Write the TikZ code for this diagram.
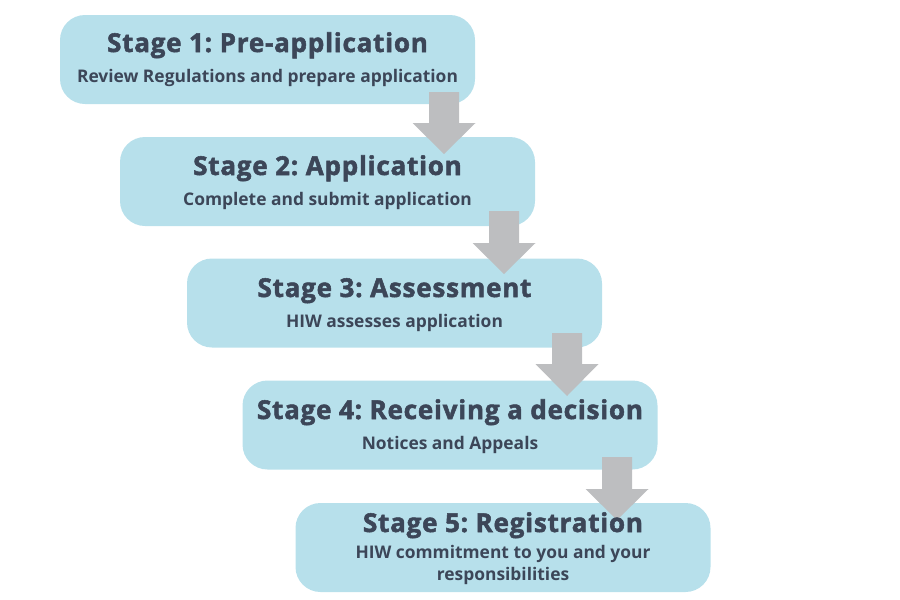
\documentclass[tikz,border=0pt]{standalone}
\usepackage{fontspec}
\setmainfont{Open Sans}
\newfontfamily\hfont{Open Sans}[BoldFeatures={FakeBold=2}, LetterSpace=3]
\definecolor{boxblue}{HTML}{B7E0EB}
\definecolor{txt}{HTML}{3C4658}
\definecolor{arrgray}{HTML}{BDBEC0}
\begin{document}
\frenchspacing
\begin{tikzpicture}[x=1pt,y=-1pt,
  box/.style={fill=boxblue, draw=none, rounded corners=25pt, minimum width=415pt, minimum height=89pt, inner sep=0pt},
  head/.style={anchor=base, text=txt, font=\fontsize{26}{30}\selectfont\hfont\bfseries, inner sep=0pt},
  sub/.style={anchor=base, text=txt, font=\fontsize{17.4}{21}\selectfont\bfseries, inner sep=0pt, align=center},
  blockarrow/.style={fill=arrgray, draw=none}]
\useasboundingbox (0,0) rectangle (900,600);
% boxes
\node[box] (b1) at (267.5,59.5) {};
\node[box] (b2) at (327.5,181.5) {};
\node[box] (b3) at (394.5,303) {};
\node[box] (b4) at (450,425) {};
\node[box] (b5) at (503,547.5) {};
% arrows
\foreach \cx/\top/\base/\tip [count=\i] in {444/92/123/154, 504/211/243/274, 567/333/364/396, 617/457/489/520}{
  \coordinate (a\i) at (\cx,\tip);
  \fill[blockarrow] (\cx-15,\top) -- (\cx+15,\top) -- (\cx+15,\base) -- (\cx+31.5,\base) -- (a\i) -- (\cx-31.5,\base) -- (\cx-15,\base) -- cycle;
}
% texts
\node[head] (h1) at (267.5,52) {Stage 1: Pre-application};
\node[sub] (s1) at (267.5,82.5) {Review Regulations and prepare application};
\node[head] (h2) at (327.5,175) {Stage 2: Application};
\node[sub] (s2) at (327.5,205.5) {Complete and submit application};
\node[head] (h3) at (394.5,297) {Stage 3: Assessment};
\node[sub] (s3) at (394.5,327.5) {HIW assesses application};
\node[head] (h4) at (450,419) {Stage 4: Receiving a decision};
\node[sub] (s4) at (450,449.5) {Notices and Appeals};
\node[head] (h5) at (503,532) {Stage 5: Registration};
\node[sub] (s5a) at (503,558) {HIW commitment to you and your};
\node[sub] (s5b) at (503,580) {responsibilities};
\end{tikzpicture}
\end{document}
